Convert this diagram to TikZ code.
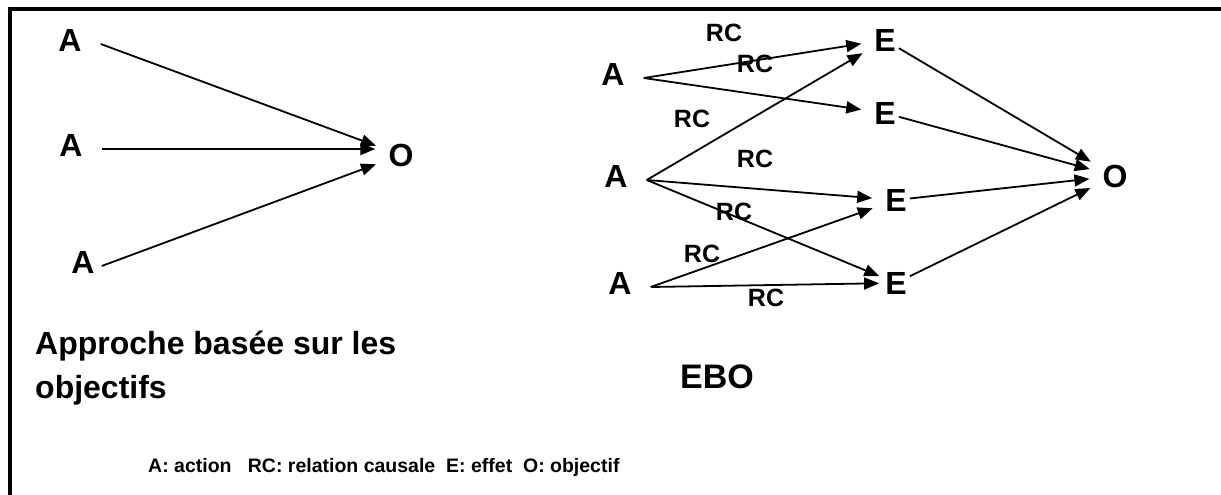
\documentclass[tikz,border=0pt]{standalone}
\usepackage{fontspec}
\setmainfont{Liberation Sans}
\usetikzlibrary{arrows.meta}

\begin{document}
\begin{tikzpicture}[
  x=1pt, y=-1pt,
  lettre/.style={font=\bfseries\fontsize{32}{38}\selectfont, inner sep=3pt},
  action/.style={lettre, inner xsep=19pt, text depth=7pt},
  rc/.style={font=\bfseries\fontsize{25}{30}\selectfont, inner sep=0pt},
  titre/.style={font=\bfseries\fontsize{32}{44}\selectfont, align=left, inner sep=0pt},
  legende/.style={font=\bfseries\fontsize{19.5}{24}\selectfont, inner sep=0pt},
  arrow/.style={-{Triangle[length=15pt,width=12pt]}, line width=1.8pt, shorten >=10pt}
]
\useasboundingbox (0,0) rectangle (1221,495);
\draw[line width=4pt] (10,495) -- (10,9) -- (1221,9);

% approche par objectifs
\node[action] (a1) at (70,44) {A};
\node[action] (a2) at (71,149) {A};
\node[action, inner xsep=7pt] (a3) at (83,266) {A};
\node[lettre] (o1) at (401,155) {O};
\draw[arrow] (a1.east) -- (o1);
\draw[arrow] (a2.east) -- (a2.east -| o1.west);
\draw[arrow] (a3.east) -- (o1);
\node[titre, anchor=north west] (t1) at (35,331) {Approche basée sur les\\objectifs};

% EBO : actions -> effets -> objectif
\node[action] (b1) at (613,78) {A};
\node[action] (b2) at (616,180) {A};
\node[action] (b3) at (620,287) {A};
\node[lettre] (e1) at (885,40) {E};
\node[lettre] (e2) at (885,113) {E};
\node[lettre] (e3) at (896,200) {E};
\node[lettre] (e4) at (896,283) {E};
\node[lettre] (o2) at (1115,176) {O};

\draw[arrow] (b1.east) -- (e1);
\draw[arrow] (b1.east) -- (e2);
\draw[arrow] (b2.east) -- (e1);
\draw[arrow] (b2.east) -- (e3);
\draw[arrow, shorten >=3pt] (b2.east) -- (e4);
\draw[arrow] (b3.east) -- (e3);
\draw[arrow, shorten >=3pt] (b3.east) -- (e4);
\foreach \e in {e1,e2,e3,e4}
  \draw[arrow] (\e) -- (o2);

\node[rc] (rc1) at (724,33) {RC};
\node[rc] (rc2) at (755,64) {RC};
\node[rc] (rc3) at (692,119) {RC};
\node[rc] (rc4) at (755,159) {RC};
\node[rc] (rc5) at (734,212) {RC};
\node[rc] (rc6) at (702,254) {RC};
\node[rc] (rc7) at (766,298) {RC};

\node[titre, font=\bfseries\fontsize{34}{40}\selectfont] (t2) at (717,377) {EBO};
\node[legende, anchor=base west] (leg) at (148,472) {A: action~~~RC: relation causale~~E: effet~~O: objectif};
\end{tikzpicture}
\end{document}
